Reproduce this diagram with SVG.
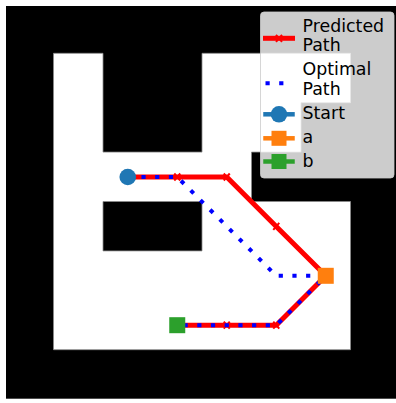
<svg xmlns="http://www.w3.org/2000/svg" width="396" height="403" viewBox="0 0 396 403">
  <style>
    .txt { font-family: "DejaVu Sans", "Liberation Sans", sans-serif; font-size: 17.4px; fill: #000; }
    .pred { fill: none; stroke: #ff0000; stroke-width: 5; stroke-linejoin: round; stroke-linecap: square; }
    .opt { fill: none; stroke: #0000ff; stroke-width: 4; stroke-linejoin: round; stroke-linecap: butt; stroke-dasharray: 4.2 9.5; }
    .xmark { fill: none; stroke: #ff0000; stroke-width: 2; }
  </style>
  <defs>
    <path id="xm" d="M-3,-3.5 L3,3.5 M-3,3.5 L3,-3.5" class="xmark"/>
  </defs>

  <!-- figure background -->
  <rect x="0" y="0" width="396" height="403" fill="#ffffff"/>

  <!-- occupancy map: walls black, free cells white -->
  <g id="map">
    <rect x="6" y="6" width="390" height="392.7" fill="#000000"/>
    <path fill="#ffffff" fill-rule="evenodd" stroke="#8a8a8a" stroke-width="0.8"
      d="M53.5,53.3 H103 V152.1 H202 V53.3 H350.5 V102.7 H301 V152.1 H251.5 V201.5 H350.5 V349.7 H53.5 Z
         M103,201.5 H202 V250.9 H103 Z"/>
  </g>

  <!-- paths between start, a and b -->
  <g id="connectors">
    <polyline id="predicted-path" class="pred"
      points="127.75,177 177.25,177 226.75,177 276.25,226.4 325.75,275.8 276.25,325.2 226.75,325.2 177.25,325.2"/>
    <use href="#xm" x="177.25" y="177"/>
    <use href="#xm" x="226.75" y="177"/>
    <use href="#xm" x="276.25" y="226.4"/>
    <use href="#xm" x="276.25" y="325.2"/>
    <use href="#xm" x="226.75" y="325.2"/>
    <polyline id="optimal-path" class="opt"
      points="127.75,177 177.25,177 226.75,226.4 276.25,275.8 325.75,275.8 276.25,325.2 226.75,325.2 177.25,325.2"/>
  </g>

  <g id="node-start">
    <circle cx="127.75" cy="177" r="8.3" fill="#1f77b4"/>
  </g>
  <g id="node-a">
    <rect x="317.75" y="267.8" width="16" height="16" fill="#ff7f0e"/>
  </g>
  <g id="node-b">
    <rect x="169.25" y="317.2" width="16" height="16" fill="#2ca02c"/>
  </g>

  <!-- legend -->
  <g id="legend">
    <rect x="260.5" y="12" width="133.5" height="166" rx="3.5" fill="#ffffff" fill-opacity="0.8" stroke="#cccccc" stroke-opacity="0.8" stroke-width="1"/>

    <line x1="265.5" y1="38.3" x2="292.5" y2="38.3" class="pred"/>
    <use href="#xm" x="279" y="38.3"/>
    <text class="txt" x="302.5" y="31.7">Predicted</text>
    <text class="txt" x="302.5" y="51">Path</text>

    <line x1="265.5" y1="83.3" x2="292.5" y2="83.3" class="opt"/>
    <text class="txt" x="302.5" y="75.2">Optimal</text>
    <text class="txt" x="302.5" y="94.5">Path</text>

    <line x1="265.5" y1="114.3" x2="292.5" y2="114.3" stroke="#1f77b4" stroke-width="4.5" stroke-linecap="square"/>
    <circle cx="279" cy="114.3" r="8.3" fill="#1f77b4"/>
    <text class="txt" x="302.5" y="119.2">Start</text>

    <line x1="265.5" y1="138.3" x2="292.5" y2="138.3" stroke="#ff7f0e" stroke-width="4.5" stroke-linecap="square"/>
    <rect x="271.5" y="130.8" width="15" height="15" fill="#ff7f0e"/>
    <text class="txt" x="302.5" y="143.3">a</text>

    <line x1="265.5" y1="161.5" x2="292.5" y2="161.5" stroke="#2ca02c" stroke-width="4.5" stroke-linecap="square"/>
    <rect x="271.5" y="154" width="15" height="15" fill="#2ca02c"/>
    <text class="txt" x="302.5" y="167.3">b</text>
  </g>
</svg>
